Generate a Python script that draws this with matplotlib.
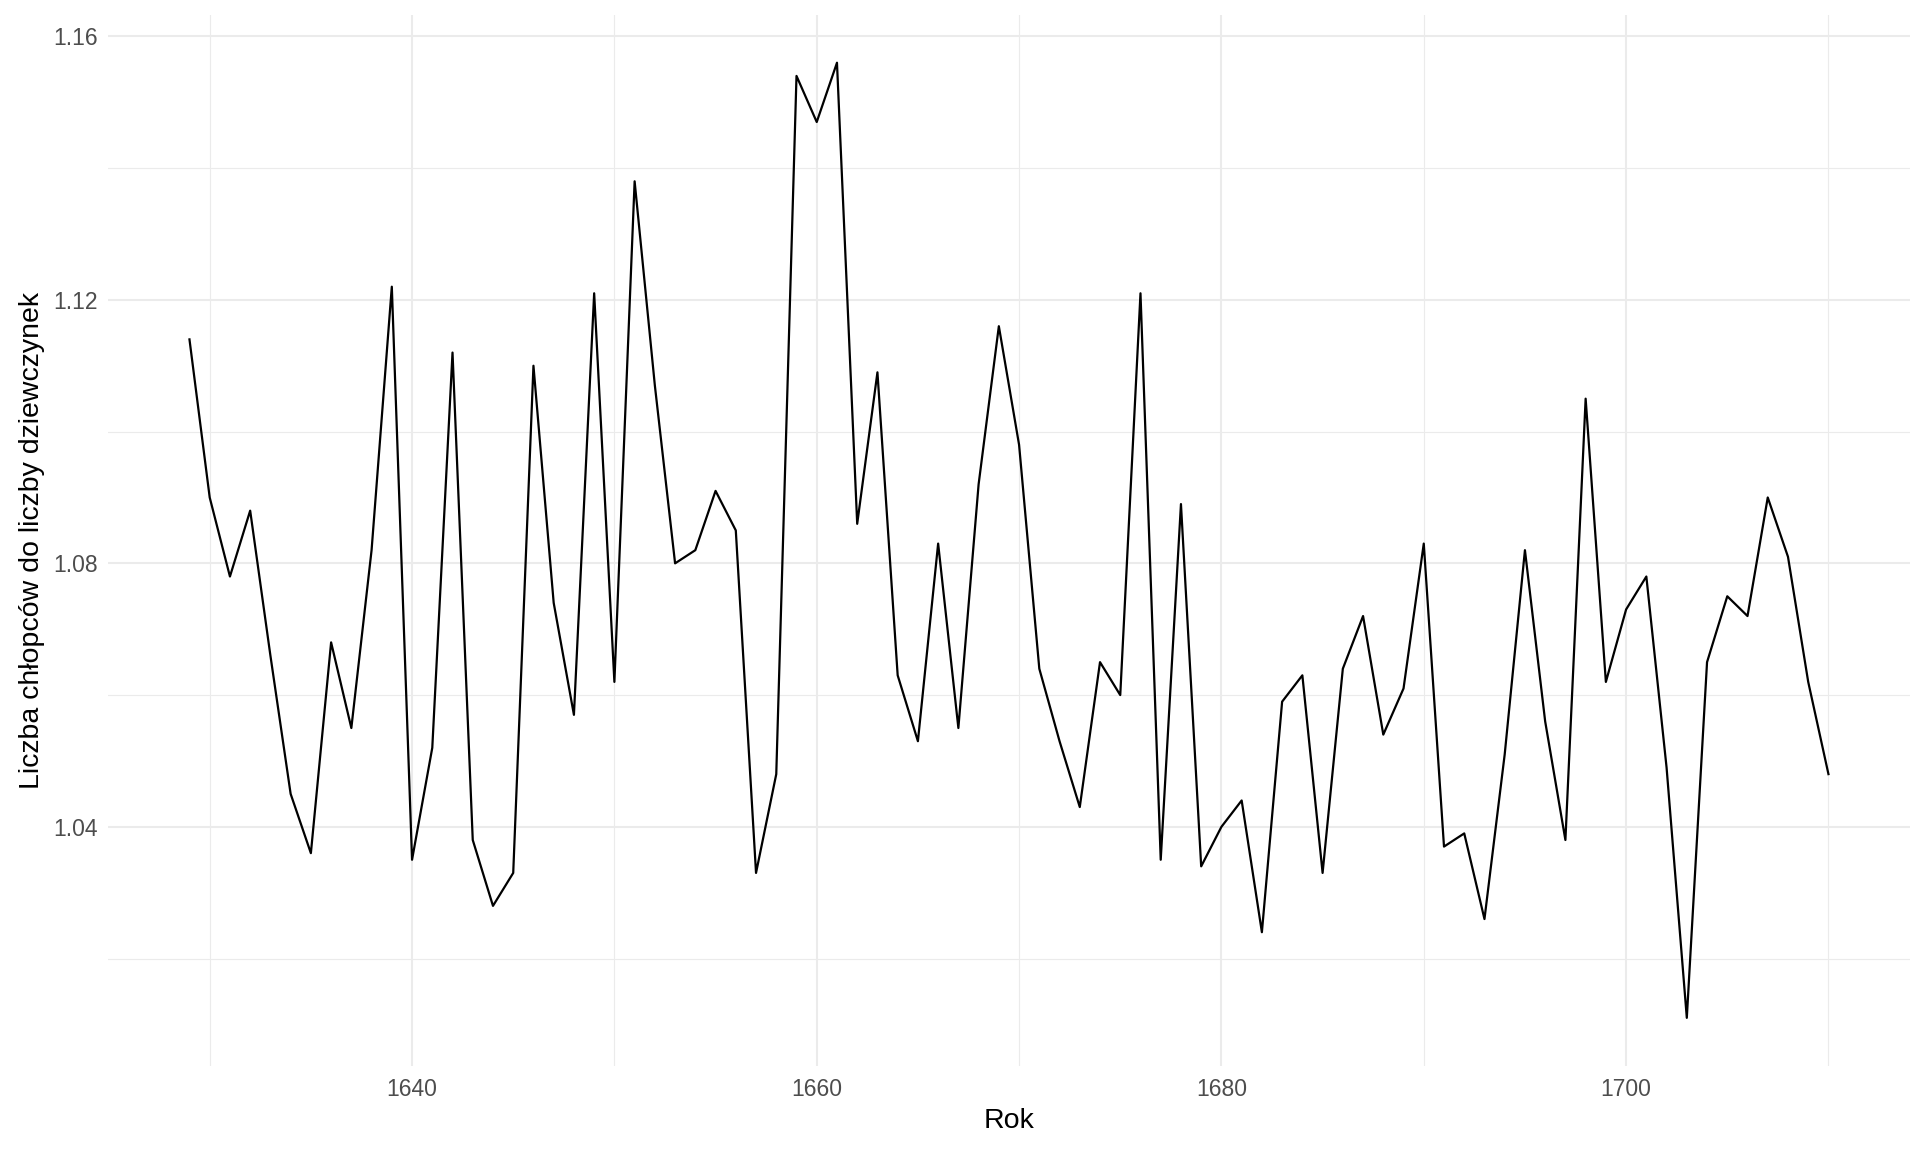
import matplotlib.pyplot as plt
from matplotlib.ticker import MultipleLocator

# Arbuthnot: stosunek liczby chrztów chłopców do dziewczynek
years = list(range(1629, 1711))
ratio = [1.114, 1.090, 1.078, 1.088, 1.066, 1.045, 1.036, 1.068, 1.055, 1.082,
         1.122, 1.035, 1.052, 1.112, 1.038, 1.028, 1.033, 1.110, 1.074, 1.057,
         1.121, 1.062, 1.138, 1.107, 1.080, 1.082, 1.091, 1.085, 1.033, 1.048,
         1.154, 1.147, 1.156, 1.086, 1.109, 1.063, 1.053, 1.083, 1.055, 1.092,
         1.116, 1.098, 1.064, 1.053, 1.043, 1.065, 1.060, 1.121, 1.035, 1.089,
         1.034, 1.040, 1.044, 1.024, 1.059, 1.063, 1.033, 1.064, 1.072, 1.054,
         1.061, 1.083, 1.037, 1.039, 1.026, 1.051, 1.082, 1.056, 1.038, 1.105,
         1.062, 1.073, 1.078, 1.049, 1.011, 1.065, 1.075, 1.072, 1.090, 1.081,
         1.062, 1.048]

plt.rcParams['font.family'] = ['Liberation Sans', 'DejaVu Sans']

fig = plt.figure(figsize=(19.2, 11.52), dpi=100)
ax = fig.add_axes([0.056, 0.075, 0.939, 0.912])

ax.plot(years, ratio, color='black', linewidth=1.6, zorder=3)

# ggplot-like expansion of 5%
xr = years[-1] - years[0]
ax.set_xlim(years[0] - 0.05 * xr, years[-1] + 0.05 * xr)
yr = max(ratio) - min(ratio)
ax.set_ylim(min(ratio) - 0.05 * yr, max(ratio) + 0.05 * yr)

ax.xaxis.set_major_locator(MultipleLocator(20))
ax.xaxis.set_minor_locator(MultipleLocator(10))
ax.yaxis.set_major_locator(MultipleLocator(0.04))
ax.yaxis.set_minor_locator(MultipleLocator(0.02))
ax.yaxis.set_major_formatter(lambda v, p: f'{v:.2f}')

ax.grid(which='major', color='#EBEBEB', linewidth=1.5)
ax.grid(which='minor', color='#EBEBEB', linewidth=0.8)
ax.set_axisbelow(True)
for s in ax.spines.values():
    s.set_visible(False)
ax.tick_params(which='both', length=0, labelsize=16.5, labelcolor='#4D4D4D')
ax.tick_params(axis='x', pad=9)
ax.tick_params(axis='y', pad=7)

ax.set_xlabel('Rok', fontsize=20.5, labelpad=5)
ax.set_ylabel('Liczba chłopców do liczby dziewczynek', fontsize=20.5, labelpad=6)

fig.savefig('out.png', dpi=100, facecolor='white')
